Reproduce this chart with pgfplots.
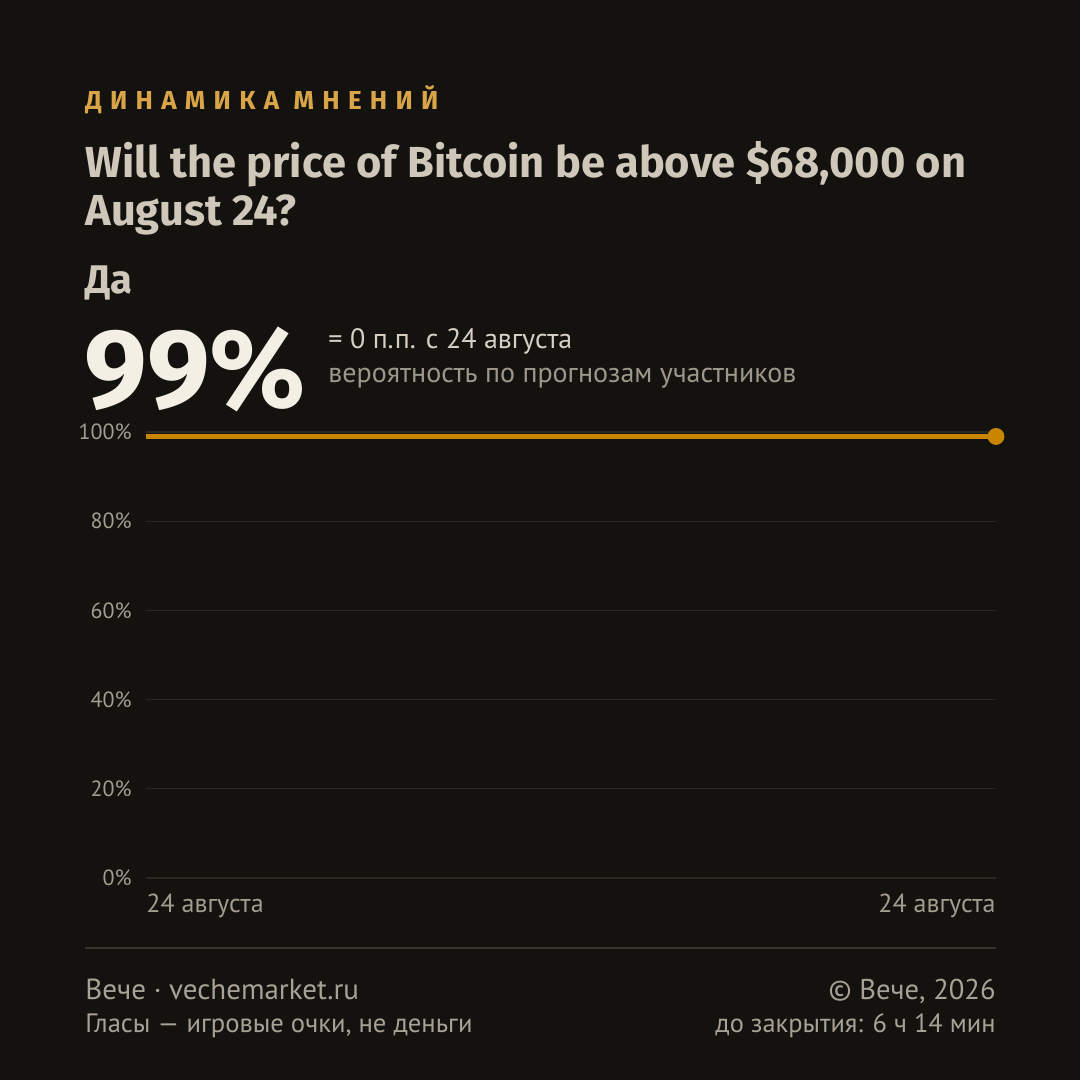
\documentclass[border=0pt]{standalone}
\usepackage{pgfplots}
\pgfplotsset{compat=1.18}
\usepackage{fontspec}
\setmainfont{PT Sans}
\newfontfamily\headfont{Fira Sans}
\definecolor{bg}{HTML}{13120F}
\definecolor{gridc}{HTML}{2A2823}
\definecolor{sepc}{HTML}{35332D}
\definecolor{kicker}{HTML}{D9A548}
\definecolor{titlec}{HTML}{CFC8BA}
\definecolor{bigc}{HTML}{F3EFE4}
\definecolor{sub1}{HTML}{D6D0C4}
\definecolor{sub2}{HTML}{9D978B}
\definecolor{tickc}{HTML}{A39D90}
\definecolor{footc}{HTML}{A8A296}
\definecolor{linec}{HTML}{C98500}
\begin{document}
\begin{tikzpicture}
\fill[bg] (0pt,0pt) rectangle (540pt,540pt);
% kicker
\node[anchor=base west,inner sep=0,text=kicker] at (42.5pt,485pt) {\headfont\bfseries\fontsize{13}{15}\selectfont\addfontfeature{LetterSpace=32}ДИНАМИКА МНЕНИЙ};
% title
\node[anchor=base west,inner sep=0,text=titlec] at (42.5pt,451pt) {\headfont\bfseries\fontsize{21.7}{26}\selectfont Will the price of Bitcoin be above \$68,000 on};
\node[anchor=base west,inner sep=0,text=titlec] at (42.5pt,427pt) {\headfont\bfseries\fontsize{21.7}{26}\selectfont August 24?};
\node[anchor=base west,inner sep=0,text=titlec] at (42.5pt,393pt) {\headfont\bfseries\fontsize{20}{24}\selectfont Да};
\node[anchor=base west,inner sep=0,text=bigc] at (42pt,336pt) {\headfont\bfseries\fontsize{56}{60}\selectfont 99\%};
\node[anchor=base west,inner sep=0,text=sub1] at (164pt,365.5pt) {\fontsize{14}{16}\selectfont = 0 п.п. с 24 августа};
\node[anchor=base west,inner sep=0,text=sub2] at (164pt,348.5pt) {\fontsize{14}{16}\selectfont вероятность по прогнозам участников};
\begin{axis}[
  at={(73pt,101pt)}, anchor=south west,
  scale only axis, width=425pt, height=223pt,
  xmin=0, xmax=1, ymin=0, ymax=100,
  axis line style={draw=none},
  major tick length=0,
  ytick={0,20,40,60,80,100},
  yticklabel={\pgfmathprintnumber{\tick}\%},
  /pgf/number format/assume math mode=true,
  yticklabel style={text=tickc,font=\fontsize{11}{13}\selectfont,anchor=east,inner sep=0pt,xshift=-7pt},
  ymajorgrids, grid style={gridc,line width=0.6pt},
  xtick={0}, xticklabels={24 августа},
  xticklabel style={text=tickc,font=\fontsize{13}{15}\selectfont,anchor=base west,inner sep=0pt,yshift=-17.5pt},
  extra x ticks={1}, extra x tick labels={24 августа},
  extra x tick style={xticklabel style={anchor=base east}, grid=none},
  clip=false,
]
\addplot[linec, line width=2.5pt] coordinates {(0,99) (1,99)};
\addplot[only marks, mark=*, mark size=4pt, mark options={fill=linec,draw=linec}] coordinates {(1,99)};
\end{axis}
\draw[sepc,line width=0.6pt] (42.5pt,66pt) -- (498pt,66pt);
\node[anchor=base west,inner sep=0,text=footc] at (42.5pt,40pt) {\fontsize{14.5}{17}\selectfont Вече · vechemarket.ru};
\node[anchor=base west,inner sep=0,text=footc] at (42.5pt,23.5pt) {\fontsize{13.3}{16}\selectfont Гласы — игровые очки, не деньги};
\node[anchor=base east,inner sep=0,text=footc] at (498pt,40pt) {\fontsize{14.3}{17}\selectfont © Вече, 2026};
\node[anchor=base east,inner sep=0,text=footc] at (498pt,23.5pt) {\fontsize{13.2}{16}\selectfont до закрытия: 6 ч 14 мин};
\end{tikzpicture}
\end{document}
